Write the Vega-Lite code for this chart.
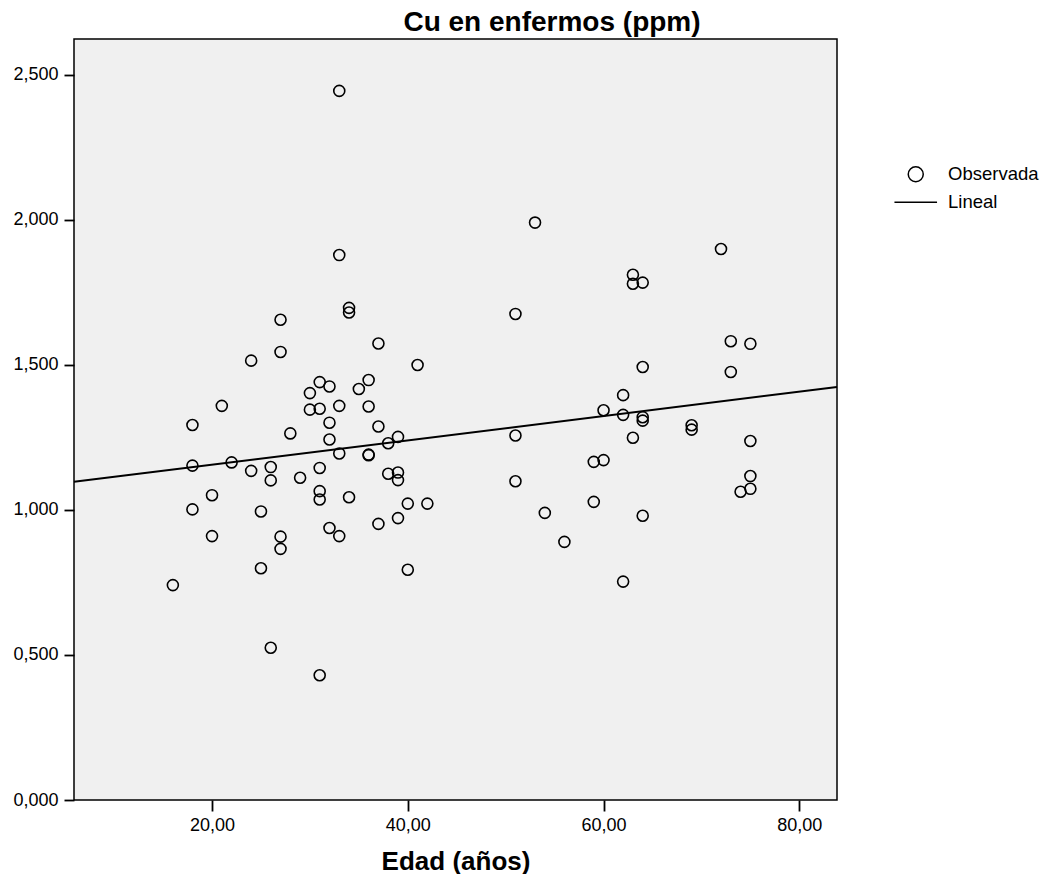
{
  "$schema": "https://vega.github.io/schema/vega-lite/v6.json",
  "autosize": {"type": "none"},
  "padding": {"left": 74, "top": 39, "right": 205, "bottom": 74},
  "width": 763,
  "height": 761,
  "background": "white",
  "title": {
    "text": "Cu en enfermos (ppm)",
    "anchor": "middle",
    "dx": 96.5,
    "dy": 27,
    "offset": 7,
    "baseline": "alphabetic",
    "font": "Liberation Sans",
    "fontSize": 28,
    "fontWeight": "bold",
    "color": "black"
  },
  "config": {
    "view": {"fill": "#F0F0F0", "stroke": "black", "strokeWidth": 1.5},
    "axis": {
      "domain": false,
      "grid": false,
      "labelFont": "Liberation Sans",
      "labelFontSize": 18,
      "labelColor": "black",
      "tickColor": "black",
      "tickWidth": 1.8,
      "titleFont": "Liberation Sans",
      "titleColor": "black"
    },
    "legend": {
      "orient": "none",
      "legendX": 832.5,
      "legendY": 126,
      "symbolSize": 225,
      "symbolStrokeWidth": 1.5,
      "symbolStrokeColor": "black",
      "symbolFillColor": "transparent",
      "labelFont": "Liberation Sans",
      "labelFontSize": 18.5,
      "labelColor": "black",
      "labelOffset": 23,
      "rowPadding": 8
    }
  },
  "datasets": {
    "pts": [
      {"edad": 16, "cu": 0.741, "serie": "Observada"},
      {"edad": 18, "cu": 1.293, "serie": "Observada"},
      {"edad": 18, "cu": 1.153, "serie": "Observada"},
      {"edad": 18, "cu": 1.002, "serie": "Observada"},
      {"edad": 20, "cu": 1.051, "serie": "Observada"},
      {"edad": 20, "cu": 0.910, "serie": "Observada"},
      {"edad": 21, "cu": 1.359, "serie": "Observada"},
      {"edad": 22, "cu": 1.164, "serie": "Observada"},
      {"edad": 24, "cu": 1.515, "serie": "Observada"},
      {"edad": 24, "cu": 1.135, "serie": "Observada"},
      {"edad": 25, "cu": 0.995, "serie": "Observada"},
      {"edad": 25, "cu": 0.799, "serie": "Observada"},
      {"edad": 26, "cu": 1.148, "serie": "Observada"},
      {"edad": 26, "cu": 1.102, "serie": "Observada"},
      {"edad": 26, "cu": 0.525, "serie": "Observada"},
      {"edad": 27, "cu": 1.656, "serie": "Observada"},
      {"edad": 27, "cu": 1.545, "serie": "Observada"},
      {"edad": 27, "cu": 0.908, "serie": "Observada"},
      {"edad": 27, "cu": 0.866, "serie": "Observada"},
      {"edad": 28, "cu": 1.264, "serie": "Observada"},
      {"edad": 29, "cu": 1.111, "serie": "Observada"},
      {"edad": 30, "cu": 1.403, "serie": "Observada"},
      {"edad": 30, "cu": 1.346, "serie": "Observada"},
      {"edad": 31, "cu": 1.441, "serie": "Observada"},
      {"edad": 31, "cu": 1.349, "serie": "Observada"},
      {"edad": 31, "cu": 1.145, "serie": "Observada"},
      {"edad": 31, "cu": 1.065, "serie": "Observada"},
      {"edad": 31, "cu": 1.036, "serie": "Observada"},
      {"edad": 31, "cu": 0.430, "serie": "Observada"},
      {"edad": 32, "cu": 1.426, "serie": "Observada"},
      {"edad": 32, "cu": 1.301, "serie": "Observada"},
      {"edad": 32, "cu": 1.243, "serie": "Observada"},
      {"edad": 32, "cu": 0.938, "serie": "Observada"},
      {"edad": 33, "cu": 2.445, "serie": "Observada"},
      {"edad": 33, "cu": 1.879, "serie": "Observada"},
      {"edad": 33, "cu": 1.359, "serie": "Observada"},
      {"edad": 33, "cu": 1.195, "serie": "Observada"},
      {"edad": 33, "cu": 0.910, "serie": "Observada"},
      {"edad": 34, "cu": 1.697, "serie": "Observada"},
      {"edad": 34, "cu": 1.681, "serie": "Observada"},
      {"edad": 34, "cu": 1.044, "serie": "Observada"},
      {"edad": 35, "cu": 1.417, "serie": "Observada"},
      {"edad": 36, "cu": 1.448, "serie": "Observada"},
      {"edad": 36, "cu": 1.357, "serie": "Observada"},
      {"edad": 36, "cu": 1.191, "serie": "Observada"},
      {"edad": 36, "cu": 1.189, "serie": "Observada"},
      {"edad": 37, "cu": 1.574, "serie": "Observada"},
      {"edad": 37, "cu": 1.288, "serie": "Observada"},
      {"edad": 37, "cu": 0.952, "serie": "Observada"},
      {"edad": 38, "cu": 1.230, "serie": "Observada"},
      {"edad": 38, "cu": 1.125, "serie": "Observada"},
      {"edad": 39, "cu": 1.252, "serie": "Observada"},
      {"edad": 39, "cu": 1.129, "serie": "Observada"},
      {"edad": 39, "cu": 1.103, "serie": "Observada"},
      {"edad": 39, "cu": 0.972, "serie": "Observada"},
      {"edad": 40, "cu": 1.022, "serie": "Observada"},
      {"edad": 40, "cu": 0.794, "serie": "Observada"},
      {"edad": 41, "cu": 1.500, "serie": "Observada"},
      {"edad": 42, "cu": 1.022, "serie": "Observada"},
      {"edad": 51, "cu": 1.676, "serie": "Observada"},
      {"edad": 51, "cu": 1.257, "serie": "Observada"},
      {"edad": 51, "cu": 1.099, "serie": "Observada"},
      {"edad": 53, "cu": 1.991, "serie": "Observada"},
      {"edad": 54, "cu": 0.990, "serie": "Observada"},
      {"edad": 56, "cu": 0.890, "serie": "Observada"},
      {"edad": 59, "cu": 1.166, "serie": "Observada"},
      {"edad": 59, "cu": 1.028, "serie": "Observada"},
      {"edad": 60, "cu": 1.344, "serie": "Observada"},
      {"edad": 60, "cu": 1.172, "serie": "Observada"},
      {"edad": 62, "cu": 1.396, "serie": "Observada"},
      {"edad": 62, "cu": 1.328, "serie": "Observada"},
      {"edad": 62, "cu": 0.753, "serie": "Observada"},
      {"edad": 63, "cu": 1.811, "serie": "Observada"},
      {"edad": 63, "cu": 1.780, "serie": "Observada"},
      {"edad": 63, "cu": 1.249, "serie": "Observada"},
      {"edad": 64, "cu": 1.784, "serie": "Observada"},
      {"edad": 64, "cu": 1.493, "serie": "Observada"},
      {"edad": 64, "cu": 1.320, "serie": "Observada"},
      {"edad": 64, "cu": 1.308, "serie": "Observada"},
      {"edad": 64, "cu": 0.980, "serie": "Observada"},
      {"edad": 69, "cu": 1.292, "serie": "Observada"},
      {"edad": 69, "cu": 1.277, "serie": "Observada"},
      {"edad": 72, "cu": 1.900, "serie": "Observada"},
      {"edad": 73, "cu": 1.582, "serie": "Observada"},
      {"edad": 73, "cu": 1.476, "serie": "Observada"},
      {"edad": 74, "cu": 1.063, "serie": "Observada"},
      {"edad": 75, "cu": 1.573, "serie": "Observada"},
      {"edad": 75, "cu": 1.238, "serie": "Observada"},
      {"edad": 75, "cu": 1.117, "serie": "Observada"},
      {"edad": 75, "cu": 1.073, "serie": "Observada"}
    ],
    "fit": [
      {"edad": 5.9, "cu": 1.097},
      {"edad": 83.85, "cu": 1.424}
    ]
  },
  "encoding": {
    "x": {
      "field": "edad",
      "type": "quantitative",
      "scale": {"domain": [5.9, 83.85], "nice": false, "zero": false},
      "axis": {
        "title": "Edad (años)",
        "titleFontSize": 26,
        "titleFontWeight": "bold",
        "titlePadding": 14,
        "values": [20, 40, 60, 80],
        "tickSize": 11,
        "labelPadding": 5,
        "labelExpr": "replace(format(datum.value, '.2f'), '.', ',')"
      }
    },
    "y": {
      "field": "cu",
      "type": "quantitative",
      "scale": {"domain": [0, 2.624], "nice": false, "zero": false},
      "axis": {
        "title": null,
        "values": [0, 0.5, 1, 1.5, 2, 2.5],
        "tickSize": 10,
        "labelPadding": 6,
        "labelExpr": "replace(format(datum.value, '.3f'), '.', ',')"
      }
    }
  },
  "layer": [
    {
      "data": {"name": "pts"},
      "mark": {"type": "point", "filled": false, "color": "black", "strokeWidth": 1.6, "size": 121, "opacity": 1},
      "encoding": {
        "shape": {
          "field": "serie",
          "type": "nominal",
          "scale": {"domain": ["Observada", "Lineal"], "range": ["circle", "M-2.84,0L2.84,0"]},
          "legend": {"title": null}
        }
      }
    },
    {
      "data": {"name": "fit"},
      "mark": {"type": "line", "color": "black", "strokeWidth": 2},
      "encoding": {}
    }
  ]
}
